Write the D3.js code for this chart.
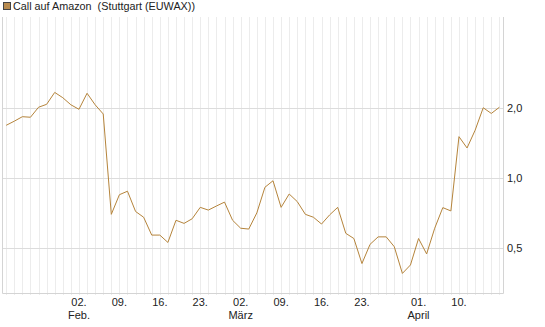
<!DOCTYPE html>
<html>
<head>
<meta charset="utf-8">
<script src="https://cdn.jsdelivr.net/npm/d3@7"></script>
<style>
  body { margin: 0; background: #fff; }
  svg { font-family: "Liberation Sans", Arial, sans-serif; }
</style>
</head>
<body>
<svg id="chart" width="545" height="327"></svg>
<script>
// Trading days (Stuttgart), Jan 20 - Apr 17, 2015.
const days = [
  '2015-01-20', '2015-01-21', '2015-01-22', '2015-01-23', '2015-01-26', '2015-01-27', '2015-01-28', '2015-01-29', '2015-01-30',
  '2015-02-02', '2015-02-03', '2015-02-04', '2015-02-05', '2015-02-06', '2015-02-09', '2015-02-10', '2015-02-11', '2015-02-12', '2015-02-13',
  '2015-02-16', '2015-02-17', '2015-02-18', '2015-02-19', '2015-02-20', '2015-02-23', '2015-02-24', '2015-02-25', '2015-02-26', '2015-02-27',
  '2015-03-02', '2015-03-03', '2015-03-04', '2015-03-05', '2015-03-06', '2015-03-09', '2015-03-10', '2015-03-11', '2015-03-12', '2015-03-13',
  '2015-03-16', '2015-03-17', '2015-03-18', '2015-03-19', '2015-03-20', '2015-03-23', '2015-03-24', '2015-03-25', '2015-03-26', '2015-03-27',
  '2015-03-30', '2015-03-31',
  '2015-04-01', '2015-04-02', '2015-04-07', '2015-04-08', '2015-04-09', '2015-04-10', '2015-04-13', '2015-04-14', '2015-04-15', '2015-04-16', '2015-04-17'
];

// Closing prices (EUR).
const prices = [
  1.69, 1.76, 1.84, 1.83, 2.02, 2.08, 2.34, 2.22, 2.07,
  1.98, 2.32, 2.07, 1.89, 0.70, 0.85, 0.88, 0.72, 0.68, 0.57,
  0.57, 0.53, 0.66, 0.64, 0.67, 0.75, 0.73, 0.76, 0.79, 0.66,
  0.61, 0.605, 0.71, 0.915, 0.976, 0.75, 0.856, 0.794, 0.70, 0.68,
  0.636, 0.696, 0.75, 0.58, 0.551, 0.43, 0.52, 0.56, 0.56, 0.508,
  0.39, 0.424,
  0.551, 0.473, 0.61, 0.748, 0.724, 1.51, 1.35, 1.61, 2.01, 1.90, 2.02
];

// Axis labels.
const xTicks = [
  { day: '2015-02-02', label: '02.', month: 'Feb.' },
  { day: '2015-02-09', label: '09.' },
  { day: '2015-02-16', label: '16.' },
  { day: '2015-02-23', label: '23.' },
  { day: '2015-03-02', label: '02.', month: 'März' },
  { day: '2015-03-09', label: '09.' },
  { day: '2015-03-16', label: '16.' },
  { day: '2015-03-23', label: '23.' },
  { day: '2015-04-01', label: '01.', month: 'April' },
  { day: '2015-04-10', label: '10.' }
];
const yTicks = [0.5, 1, 2];
const yTickLabels = ['0,5', '1,0', '2,0'];

const seriesName = 'Call auf Amazon  (Stuttgart (EUWAX))';
const color = '#b5843b';

const svg = d3.select('#chart');

// Plot area.
const plotLeft = 2.5, plotRight = 503.5, plotTop = 17, plotBottom = 293;

// Scales.
const x = d3.scalePoint().domain(days).range([6.2, 499.4]);
const y = d3.scaleLog().domain([0.3213, 4.936]).range([plotBottom, plotTop]);

// Vertical grid, one line per trading day.
svg.append('g')
  .selectAll('line')
  .data(days)
  .join('line')
  .attr('x1', d => Math.round(x(d)) + 0.5)
  .attr('x2', d => Math.round(x(d)) + 0.5)
  .attr('y1', plotTop)
  .attr('y2', plotBottom + 2)
  .attr('stroke', '#ececec')
  .attr('stroke-width', 1);

// Horizontal grid.
svg.append('g')
  .selectAll('line')
  .data(yTicks)
  .join('line')
  .attr('x1', plotLeft)
  .attr('x2', plotRight)
  .attr('y1', d => Math.round(y(d)) + 0.5)
  .attr('y2', d => Math.round(y(d)) + 0.5)
  .attr('stroke', '#dcdcdc')
  .attr('stroke-width', 1);

// Frame (left, bottom, right).
svg.append('path')
  .attr('d', `M${plotLeft},${plotTop}V${plotBottom + 0.5}H${plotRight}V${plotTop}`)
  .attr('fill', 'none')
  .attr('stroke', '#d4d4d4')
  .attr('stroke-width', 1);

// Price line.
svg.append('path')
  .datum(prices)
  .attr('fill', 'none')
  .attr('stroke', color)
  .attr('stroke-width', 1)
  .attr('stroke-linejoin', 'miter')
  .attr('d', d3.line().x((d, i) => x(days[i])).y(d => y(d)));

// Y labels (right).
svg.append('g')
  .selectAll('text')
  .data(yTicks)
  .join('text')
  .attr('x', 507)
  .attr('y', d => y(d) + 4)
  .attr('font-size', 11)
  .attr('fill', '#222')
  .text((d, i) => yTickLabels[i]);

// X labels.
const xl = svg.append('g').attr('font-size', 11).attr('fill', '#222').attr('text-anchor', 'middle');
xl.selectAll('text.day')
  .data(xTicks)
  .join('text')
  .attr('class', 'day')
  .attr('x', d => x(d.day))
  .attr('y', 306)
  .text(d => d.label);
xl.selectAll('text.month')
  .data(xTicks.filter(d => d.month))
  .join('text')
  .attr('class', 'month')
  .attr('x', d => x(d.day))
  .attr('y', 319)
  .text(d => d.month);

// Legend.
svg.append('rect')
  .attr('x', 3.5).attr('y', 2.5)
  .attr('width', 7).attr('height', 7)
  .attr('fill', '#b88b4f')
  .attr('stroke', '#444')
  .attr('stroke-width', 1);
svg.append('text')
  .attr('x', 13)
  .attr('y', 10)
  .attr('font-size', 10.8)
  .attr('fill', '#222')
  .style('white-space', 'pre')
  .text(seriesName);
</script>
</body>
</html>
